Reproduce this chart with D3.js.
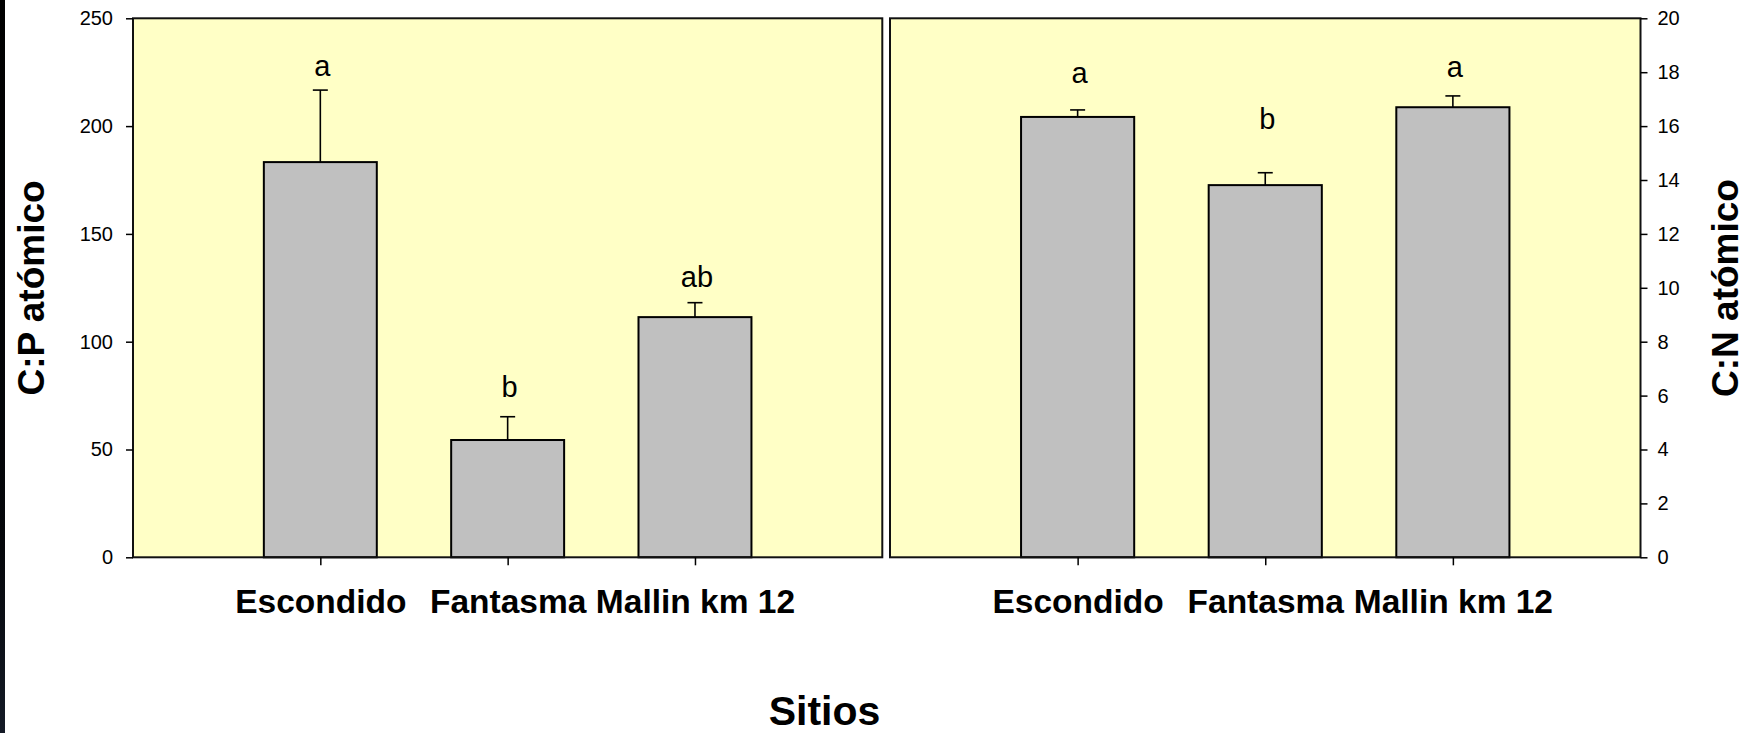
<!DOCTYPE html>
<html>
<head>
<meta charset="utf-8">
<script src="https://cdn.jsdelivr.net/npm/d3@7"></script>
<style>
  html, body { margin: 0; padding: 0; background: #ffffff; }
  svg { display: block; }
  text { font-family: "Liberation Sans", Arial, sans-serif; fill: #000; }
</style>
</head>
<body>
<svg id="chart" width="1756" height="733"></svg>
<script>
// Sites sampled
const sitios = ["Escondido", "Fantasma", "Mallin km 12"];

// C:P atomic ratio (mean and standard error)
const cpMedia = [183.3, 54.4, 111.4];
const cpError = [33.4, 10.8, 6.7];
const cpLetras = ["a", "b", "ab"];
const cpLetraY = [223.2, 74.4, 125.4];
const cpTicks = [0, 50, 100, 150, 200, 250];

// C:N atomic ratio (mean and standard error)
const cnMedia = [16.34, 13.81, 16.70];
const cnError = [0.26, 0.46, 0.42];
const cnLetras = ["a", "b", "a"];
const cnLetraY = [17.6, 15.9, 17.83];
const cnTicks = [0, 2, 4, 6, 8, 10, 12, 14, 16, 18, 20];

const svg = d3.select("#chart");

// thin dark strip along the left edge
const defs = svg.append("defs");
const grad = defs.append("linearGradient").attr("id", "edge")
  .attr("x1", 0).attr("y1", 0).attr("x2", 0).attr("y2", 1);
grad.append("stop").attr("offset", "0%").attr("stop-color", "#000000");
grad.append("stop").attr("offset", "75%").attr("stop-color", "#05070b");
grad.append("stop").attr("offset", "100%").attr("stop-color", "#141a26");
svg.append("rect").attr("x", 0).attr("y", 0).attr("width", 5).attr("height", 733)
  .attr("fill", "url(#edge)");

const plotTop = 18.3, plotBottom = 557.3;
const panels = [
  { x0: 133, x1: 882.3, max: 250, media: cpMedia, err: cpError, letras: cpLetras,
    letraY: cpLetraY, ticks: cpTicks, side: "left" },
  { x0: 890, x1: 1640.5, max: 20, media: cnMedia, err: cnError, letras: cnLetras,
    letraY: cnLetraY, ticks: cnTicks, side: "right" }
];

panels.forEach(p => {
  const g = svg.append("g");
  const x = d3.scalePoint().domain(sitios).range([p.x0, p.x1]).padding(1);
  const y = d3.scaleLinear().domain([0, p.max]).range([plotBottom, plotTop]);
  const barW = x.step() * 0.603;

  // plot area
  g.append("rect")
    .attr("x", p.x0).attr("y", plotTop)
    .attr("width", p.x1 - p.x0).attr("height", plotBottom - plotTop)
    .attr("fill", "#FFFFC6");

  // bars
  g.selectAll("rect.bar").data(sitios).join("rect")
    .attr("class", "bar")
    .attr("x", d => x(d) - barW / 2)
    .attr("y", (d, i) => y(p.media[i]))
    .attr("width", barW)
    .attr("height", (d, i) => plotBottom - y(p.media[i]))
    .attr("fill", "#C0C0C0")
    .attr("stroke", "#000")
    .attr("stroke-width", 2);

  // upper error bars
  const eb = g.selectAll("g.err").data(sitios).join("g").attr("class", "err");
  eb.append("line")
    .attr("x1", d => x(d)).attr("x2", d => x(d))
    .attr("y1", (d, i) => y(p.media[i]))
    .attr("y2", (d, i) => y(p.media[i] + p.err[i]))
    .attr("stroke", "#000").attr("stroke-width", 1.6);
  eb.append("line")
    .attr("x1", d => x(d) - 7.5).attr("x2", d => x(d) + 7.5)
    .attr("y1", (d, i) => y(p.media[i] + p.err[i]))
    .attr("y2", (d, i) => y(p.media[i] + p.err[i]))
    .attr("stroke", "#000").attr("stroke-width", 1.6);

  // significance letters
  g.selectAll("text.letra").data(sitios).join("text")
    .attr("class", "letra")
    .attr("x", d => x(d) + 2)
    .attr("y", (d, i) => y(p.letraY[i]))
    .attr("text-anchor", "middle")
    .attr("font-size", 29)
    .text((d, i) => p.letras[i]);

  // frame
  g.append("rect")
    .attr("x", p.x0).attr("y", plotTop)
    .attr("width", p.x1 - p.x0).attr("height", plotBottom - plotTop)
    .attr("fill", "none").attr("stroke", "#111").attr("stroke-width", 2);

  // value axis
  const axis = (p.side === "left" ? d3.axisLeft(y) : d3.axisRight(y))
    .tickValues(p.ticks).tickSize(7).tickSizeOuter(0)
    .tickPadding(p.side === "left" ? 13 : 10);
  const ga = g.append("g")
    .attr("transform", `translate(${p.side === "left" ? p.x0 : p.x1},0)`)
    .call(axis);
  ga.select(".domain").remove();
  ga.selectAll("line").attr("stroke", "#000").attr("stroke-width", 1.5);
  ga.selectAll("text").attr("font-size", 20)
    .attr("font-family", "'Liberation Sans', Arial, sans-serif");

  // category axis
  const gx = g.append("g")
    .attr("transform", `translate(0,${plotBottom})`)
    .call(d3.axisBottom(x).tickSize(8).tickSizeOuter(0).tickPadding(24));
  gx.select(".domain").remove();
  gx.selectAll("line").attr("stroke", "#000").attr("stroke-width", 1.5);
  gx.selectAll("text").attr("font-size", 33.5).attr("font-weight", "bold")
    .attr("font-family", "'Liberation Sans', Arial, sans-serif");
});

// axis titles
svg.append("text")
  .attr("transform", "translate(44,288) rotate(-90)")
  .attr("text-anchor", "middle")
  .attr("font-size", 37).attr("font-weight", "bold")
  .text("C:P atómico");

svg.append("text")
  .attr("transform", "translate(1738,288) rotate(-90)")
  .attr("text-anchor", "middle")
  .attr("font-size", 37).attr("font-weight", "bold")
  .text("C:N atómico");

svg.append("text")
  .attr("x", 824.5).attr("y", 725)
  .attr("text-anchor", "middle")
  .attr("font-size", 41).attr("font-weight", "bold")
  .text("Sitios");
</script>
</body>
</html>
